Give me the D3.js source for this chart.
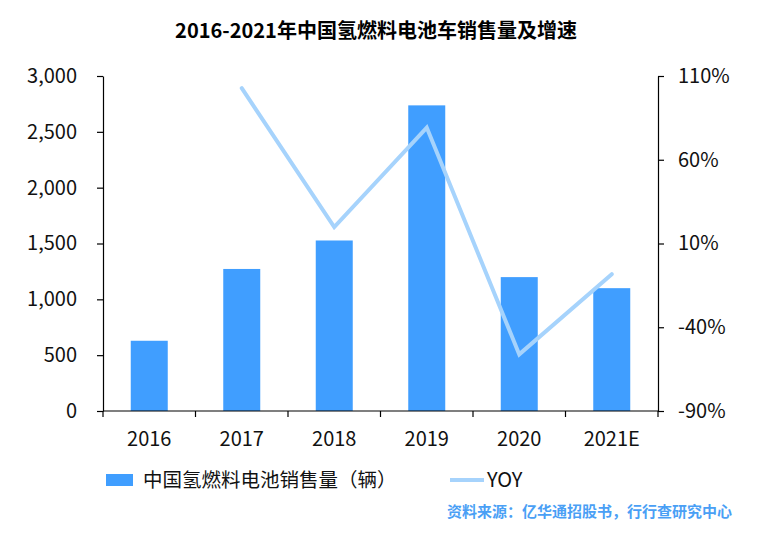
<!DOCTYPE html>
<html>
<head>
<meta charset="utf-8">
<script src="https://cdn.jsdelivr.net/npm/d3@7"></script>
<style>
  html, body { margin: 0; padding: 0; background: #fff; }
  svg { display: block; }
  text { font-family: "Noto Sans CJK SC", "Noto Sans", sans-serif; }
</style>
</head>
<body>
<svg id="chart" width="759" height="538"></svg>
<script>
const categories = ["2016", "2017", "2018", "2019", "2020", "2021E"];
const sales = [629, 1272, 1527, 2737, 1199, 1100];
const yoy = [null, 102.7, 19.8, 79.2, -56.2, -8.3];
const leftTicks = [0, 500, 1000, 1500, 2000, 2500, 3000];
const rightTicks = [-90, -40, 10, 60, 110];

const titleText = "2016-2021年中国氢燃料电池车销售量及增速";
const barLabel = "中国氢燃料电池销售量（辆）";
const lineLabel = "YOY";
const sourceText = "资料来源：亿华通招股书，行行查研究中心";

const barColor = "#409eff";
const lineColor = "#a6d3fc";

const svg = d3.select("#chart");
const m = { left: 103, right: 658, top: 76, bottom: 411 };

const x = d3.scaleBand().domain(categories).range([m.left, m.right]).paddingInner(0.6).paddingOuter(0.3);
const xb = d3.scaleBand().domain(categories).range([m.left, m.right]);
const yL = d3.scaleLinear().domain([0, 3000]).range([m.bottom, m.top]);
const yR = d3.scaleLinear().domain([-90, 110]).range([m.bottom, m.top]);

// title
svg.append("text").attr("x", 376).attr("y", 38).attr("text-anchor", "middle")
  .attr("font-size", 20).attr("font-weight", "bold").attr("fill", "#000").text(titleText);

// bars
svg.append("g").selectAll("rect").data(categories).join("rect")
  .attr("x", d => x(d)).attr("width", x.bandwidth())
  .attr("y", (d, i) => yL(sales[i])).attr("height", (d, i) => m.bottom - yL(sales[i]))
  .attr("fill", barColor);

// line
const pts = categories.map((c, i) => ({ c, v: yoy[i] })).filter(d => d.v !== null);
svg.append("path").datum(pts)
  .attr("d", d3.line().x(d => xb(d.c) + xb.bandwidth() / 2).y(d => yR(d.v)))
  .attr("fill", "none").attr("stroke", lineColor).attr("stroke-width", 4)
  .attr("stroke-linecap", "round").attr("stroke-linejoin", "miter");

// axes
const tickFont = 20;
const axisStyle = g => {
  g.selectAll("path, line").attr("stroke", "#000").attr("stroke-width", 1.2);
  g.selectAll("text").attr("font-size", tickFont).attr("fill", "#111")
    .attr("font-family", "'Noto Sans', 'Noto Sans CJK SC', sans-serif");
};

svg.append("g").attr("transform", `translate(${m.left},0)`)
  .call(d3.axisLeft(yL).tickValues(leftTicks).tickSize(6).tickPadding(20).tickSizeOuter(0)
    .tickFormat(d3.format(",")))
  .call(axisStyle);

svg.append("g").attr("transform", `translate(${m.right},0)`)
  .call(d3.axisRight(yR).tickValues(rightTicks).tickSize(6).tickPadding(14).tickSizeOuter(0)
    .tickFormat(d => d + "%"))
  .call(axisStyle);

// x axis with ticks at band boundaries
const gx = svg.append("g").attr("transform", `translate(0,${m.bottom})`);
gx.append("line").attr("x1", m.left).attr("x2", m.right).attr("stroke", "#000").attr("stroke-width", 1.2);
const bounds = categories.map(c => xb(c)).concat([m.right]);
gx.selectAll("line.tk").data(bounds).join("line").attr("class", "tk")
  .attr("x1", d => d).attr("x2", d => d).attr("y1", 0).attr("y2", 6)
  .attr("stroke", "#000").attr("stroke-width", 1.2);
gx.selectAll("text").data(categories).join("text")
  .attr("x", d => xb(d) + xb.bandwidth() / 2).attr("y", 35).attr("text-anchor", "middle")
  .attr("font-size", tickFont).attr("fill", "#111")
  .attr("font-family", "'Noto Sans', 'Noto Sans CJK SC', sans-serif")
  .text(d => d);

// legend
const lg = svg.append("g");
lg.append("rect").attr("x", 106).attr("y", 474).attr("width", 27).attr("height", 12).attr("fill", barColor);
lg.append("text").attr("x", 143).attr("y", 487).attr("font-size", 19.5).attr("fill", "#111").text(barLabel);
lg.append("line").attr("x1", 450).attr("x2", 484).attr("y1", 480).attr("y2", 480)
  .attr("stroke", lineColor).attr("stroke-width", 4);
lg.append("text").attr("x", 487).attr("y", 487).attr("font-size", 20).attr("fill", "#111")
  .attr("font-family", "'Noto Sans', sans-serif").text(lineLabel);

// source
svg.append("text").attr("x", 732).attr("y", 517).attr("text-anchor", "end")
  .attr("font-size", 15).attr("font-weight", "bold").attr("fill", "#4a9ff5").text(sourceText);
</script>
</body>
</html>
